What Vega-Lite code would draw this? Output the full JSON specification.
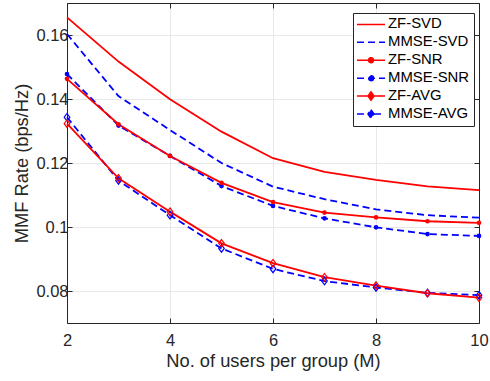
{
  "$schema": "https://vega.github.io/schema/vega-lite/v6.json",
  "width": 412,
  "height": 320,
  "autosize": {"type": "none"},
  "padding": {"left": 67, "top": 3, "right": 11, "bottom": 58},
  "config": {"view": {"stroke": null}, "font": "Liberation Sans"},
  "data": {
    "values": [
      {"series": "MMSE-SVD", "M": 2, "rate": 0.1603},
      {"series": "MMSE-SVD", "M": 3, "rate": 0.1409},
      {"series": "MMSE-SVD", "M": 4, "rate": 0.1303},
      {"series": "MMSE-SVD", "M": 5, "rate": 0.1200},
      {"series": "MMSE-SVD", "M": 6, "rate": 0.1126},
      {"series": "MMSE-SVD", "M": 7, "rate": 0.1087},
      {"series": "MMSE-SVD", "M": 8, "rate": 0.1055},
      {"series": "MMSE-SVD", "M": 9, "rate": 0.1037},
      {"series": "MMSE-SVD", "M": 10, "rate": 0.1029},
      {"series": "MMSE-SNR", "M": 2, "rate": 0.1478},
      {"series": "MMSE-SNR", "M": 3, "rate": 0.1317},
      {"series": "MMSE-SNR", "M": 4, "rate": 0.1222},
      {"series": "MMSE-SNR", "M": 5, "rate": 0.1128},
      {"series": "MMSE-SNR", "M": 6, "rate": 0.1066},
      {"series": "MMSE-SNR", "M": 7, "rate": 0.1027},
      {"series": "MMSE-SNR", "M": 8, "rate": 0.0999},
      {"series": "MMSE-SNR", "M": 9, "rate": 0.0978},
      {"series": "MMSE-SNR", "M": 10, "rate": 0.0972},
      {"series": "MMSE-AVG", "M": 2, "rate": 0.1343},
      {"series": "MMSE-AVG", "M": 3, "rate": 0.1145},
      {"series": "MMSE-AVG", "M": 4, "rate": 0.1037},
      {"series": "MMSE-AVG", "M": 5, "rate": 0.0933},
      {"series": "MMSE-AVG", "M": 6, "rate": 0.0869},
      {"series": "MMSE-AVG", "M": 7, "rate": 0.0831},
      {"series": "MMSE-AVG", "M": 8, "rate": 0.0811},
      {"series": "MMSE-AVG", "M": 9, "rate": 0.0794},
      {"series": "MMSE-AVG", "M": 10, "rate": 0.0787},
      {"series": "ZF-SVD", "M": 2, "rate": 0.1655},
      {"series": "ZF-SVD", "M": 3, "rate": 0.1517},
      {"series": "ZF-SVD", "M": 4, "rate": 0.1399},
      {"series": "ZF-SVD", "M": 5, "rate": 0.1298},
      {"series": "ZF-SVD", "M": 6, "rate": 0.1215},
      {"series": "ZF-SVD", "M": 7, "rate": 0.1172},
      {"series": "ZF-SVD", "M": 8, "rate": 0.1147},
      {"series": "ZF-SVD", "M": 9, "rate": 0.1127},
      {"series": "ZF-SVD", "M": 10, "rate": 0.1115},
      {"series": "ZF-SNR", "M": 2, "rate": 0.1463},
      {"series": "ZF-SNR", "M": 3, "rate": 0.1321},
      {"series": "ZF-SNR", "M": 4, "rate": 0.1222},
      {"series": "ZF-SNR", "M": 5, "rate": 0.1138},
      {"series": "ZF-SNR", "M": 6, "rate": 0.1078},
      {"series": "ZF-SNR", "M": 7, "rate": 0.1045},
      {"series": "ZF-SNR", "M": 8, "rate": 0.1030},
      {"series": "ZF-SNR", "M": 9, "rate": 0.1018},
      {"series": "ZF-SNR", "M": 10, "rate": 0.1013},
      {"series": "ZF-AVG", "M": 2, "rate": 0.1323},
      {"series": "ZF-AVG", "M": 3, "rate": 0.1152},
      {"series": "ZF-AVG", "M": 4, "rate": 0.1048},
      {"series": "ZF-AVG", "M": 5, "rate": 0.0949},
      {"series": "ZF-AVG", "M": 6, "rate": 0.0887},
      {"series": "ZF-AVG", "M": 7, "rate": 0.0843},
      {"series": "ZF-AVG", "M": 8, "rate": 0.0817},
      {"series": "ZF-AVG", "M": 9, "rate": 0.0793},
      {"series": "ZF-AVG", "M": 10, "rate": 0.0779}
    ]
  },
  "layer": [
    {
      "encoding": {
        "x": {
          "field": "M", "type": "quantitative",
          "scale": {"domain": [2, 10], "nice": false, "zero": false},
          "axis": {
            "values": [2, 4, 6, 8, 10], "title": "No. of users per group (M)",
            "grid": true, "gridColor": "#e8e8e8", "gridWidth": 1,
            "tickSize": -5, "tickColor": "#262626", "domainColor": "#262626",
            "labelColor": "#262626", "labelFontSize": 16.5, "labelPadding": 14, "labelFlush": false,
            "titleFontSize": 18.3, "titleFontWeight": "normal", "titleColor": "#262626", "titlePadding": 4
          }
        },
        "y": {
          "field": "rate", "type": "quantitative",
          "scale": {"domain": [0.07, 0.17], "nice": false, "zero": false},
          "axis": {
            "values": [0.08, 0.1, 0.12, 0.14, 0.16], "format": "~g", "title": "MMF Rate (bps/Hz)",
            "grid": true, "gridColor": "#e8e8e8", "gridWidth": 1,
            "tickSize": -5, "tickColor": "#262626", "domainColor": "#262626",
            "labelColor": "#262626", "labelFontSize": 16.5, "labelPadding": 4, "labelFlush": false,
            "titleFontSize": 18.3, "titleFontWeight": "normal", "titleColor": "#262626", "titlePadding": 4
          }
        },
        "color": {
          "field": "series", "type": "nominal",
          "scale": {
            "domain": ["ZF-SVD", "MMSE-SVD", "ZF-SNR", "MMSE-SNR", "ZF-AVG", "MMSE-AVG"],
            "range": ["#ff0000", "#0000ff", "#ff0000", "#0000ff", "#ff0000", "#0000ff"]
          },
          "legend": {
            "title": null, "orient": "none", "legendX": 286, "legendY": 10,
            "fillColor": "#ffffff", "strokeColor": "#262626", "padding": 4,
            "labelFontSize": 14.9, "labelColor": "#000000", "labelFont": "Liberation Sans",
            "symbolSize": 100, "symbolStrokeWidth": 1.5, "symbolOffset": 0,
            "labelOffset": 16.1, "rowPadding": 1.9,
            "labelExpr": "datum.label + ' '",
            "encode": {
              "symbols": {
                "update": {
                  "shape": {"signal": "indexof(datum.value,'SNR')>0 ? 'M-1.49,0H4.11M1.81,0A0.5,0.5,0,1,1,0.81,0A0.5,0.5,0,1,1,1.81,0Z' : (indexof(datum.value,'AVG')>0 ? 'M-1.49,0H0.71M1.91,0H4.11M1.31,-0.85L1.91,0L1.31,0.85L0.71,0Z' : 'M-1.49,0H4.11')"},
                  "stroke": {"signal": "indexof(datum.value,'ZF')==0 ? '#ff0000' : '#0000ff'"},
                  "fill": {"signal": "indexof(datum.value,'SNR')>0 ? (indexof(datum.value,'ZF')==0 ? '#ff0000' : '#0000ff') : 'transparent'"},
                  "strokeDash": {"signal": "indexof(datum.value,'MMSE')==0 ? [7,4] : [1,0]"},
                  "strokeWidth": {"value": 1.5},
                  "opacity": {"value": 1}
                }
              }
            }
          }
        }
      },
      "layer": [
        {
          "transform": [{"filter": {"field": "series", "oneOf": ["MMSE-SVD", "MMSE-SNR", "MMSE-AVG"]}}],
          "mark": {"type": "line", "strokeWidth": 1.8, "strokeDash": [7, 4]}
        },
        {
          "transform": [{"filter": {"field": "series", "oneOf": ["ZF-SVD", "ZF-SNR", "ZF-AVG"]}}],
          "mark": {"type": "line", "strokeWidth": 1.8}
        },
        {
          "transform": [{"filter": {"field": "series", "oneOf": ["ZF-SNR", "MMSE-SNR"]}}],
          "mark": {"type": "point", "shape": "circle", "filled": true, "size": 22, "opacity": 1}
        },
        {
          "transform": [{"filter": {"field": "series", "oneOf": ["ZF-AVG", "MMSE-AVG"]}}],
          "mark": {"type": "point", "shape": "M0,-1L0.75,0L0,1L-0.75,0Z", "filled": false, "fill": "transparent", "size": 56, "strokeWidth": 1.2, "opacity": 1}
        }
      ]
    },
    {
      "mark": {"type": "point", "opacity": 0},
      "encoding": {
        "x": {
          "field": "M", "type": "quantitative",
          "axis": {"orient": "top", "values": [2, 4, 6, 8, 10], "labels": false, "title": null, "grid": false, "tickSize": -5, "tickColor": "#262626", "domainColor": "#262626"}
        },
        "y": {
          "field": "rate", "type": "quantitative",
          "axis": {"orient": "right", "values": [0.08, 0.1, 0.12, 0.14, 0.16], "labels": false, "title": null, "grid": false, "tickSize": -5, "tickColor": "#262626", "domainColor": "#262626"}
        }
      }
    }
  ],
  "resolve": {"axis": {"x": "independent", "y": "independent"}}
}
